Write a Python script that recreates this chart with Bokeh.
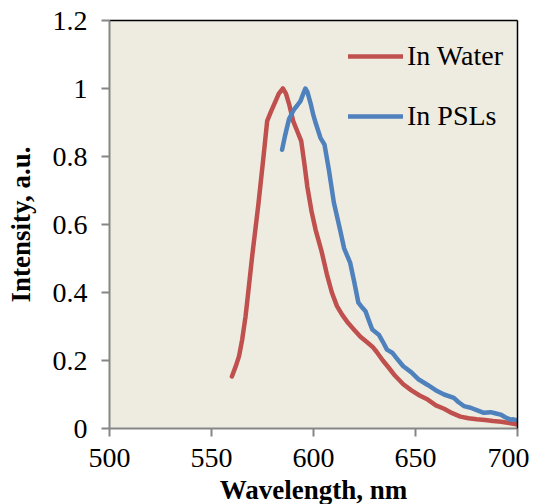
from bokeh.plotting import figure
from bokeh.models import LinearAxis, FixedTicker, Legend, LegendItem, Range1d
from bokeh.embed import file_html
from bokeh.resources import INLINE

water_wl = [560, 562, 563.5, 565, 566.7, 568, 570, 573, 575.5, 577.3, 579, 581.4, 583, 585,
            586.5, 588, 590, 592, 594, 595.5, 597, 599, 601, 604, 606.5, 609, 611.5, 614,
            617, 620, 623, 626, 629, 631, 634, 637, 640, 644, 648, 652, 656, 660, 664, 668,
            672, 676, 680, 684, 688, 692, 696, 700]
water_int = [0.153, 0.185, 0.213, 0.26, 0.33, 0.40, 0.51, 0.66, 0.80, 0.905, 0.93, 0.963, 0.985, 1.0,
             0.985, 0.955, 0.905, 0.875, 0.845, 0.78, 0.71, 0.64, 0.585, 0.52, 0.455, 0.40, 0.36, 0.335,
             0.31, 0.29, 0.27, 0.255, 0.24, 0.225, 0.20, 0.178, 0.155, 0.13, 0.112, 0.097, 0.085, 0.068,
             0.058, 0.045, 0.035, 0.03, 0.027, 0.025, 0.022, 0.02, 0.016, 0.012]

psl_wl = [584.6, 586, 588, 590.4, 592, 593.6, 595, 596, 597, 598.5, 600, 601, 603.4, 605.4, 607.5,
          610, 613, 615, 618, 620, 622, 624, 625.5, 627, 628.8, 632, 634, 636, 638.6, 641, 644,
          648, 651.6, 656, 660.6, 664, 668.8, 671, 673.7, 677, 680, 683.5, 686.8, 689, 691.7,
          694, 696.6, 698, 700]
psl_int = [0.82, 0.86, 0.91, 0.938, 0.95, 0.963, 0.985, 1.0, 0.99, 0.958, 0.92, 0.9, 0.855, 0.835,
           0.762, 0.664, 0.585, 0.53, 0.487, 0.43, 0.37, 0.355, 0.345, 0.32, 0.291, 0.276, 0.255,
           0.232, 0.223, 0.205, 0.183, 0.165, 0.144, 0.128, 0.11, 0.1, 0.09, 0.078, 0.066, 0.061,
           0.054, 0.046, 0.048, 0.045, 0.041, 0.033, 0.026, 0.027, 0.024]

x_ticks = [500, 550, 600, 650, 700]
y_ticks = [0, 0.2, 0.4, 0.6, 0.8, 1.0, 1.2]
y_tick_labels = ["0", "0.2", "0.4", "0.6", "0.8", "1", "1.2"]

FONT = "Liberation Serif"
AXIS_GRAY = "#868686"
RED = "#C0504D"
BLUE = "#4F81BD"

p = figure(frame_width=408, frame_height=408, output_backend="svg", toolbar_location=None,
           x_range=Range1d(500, 700), y_range=Range1d(0, 1.2),
           min_border_left=109, min_border_top=20, min_border_right=12, min_border_bottom=66,
           border_fill_color="white")
p.background_fill_color = "#EEECE1"
p.outline_line_color = None
p.xgrid.visible = False
p.ygrid.visible = False

r1 = p.line(water_wl, water_int, line_color=RED, line_width=4.5, line_cap="round", line_join="round")
r2 = p.line(psl_wl, psl_int, line_color=BLUE, line_width=4.5, line_cap="round", line_join="round")

for ax in (p.xaxis[0], p.yaxis[0]):
    ax.axis_line_color = AXIS_GRAY
    ax.axis_line_width = 2
    ax.major_tick_line_color = AXIS_GRAY
    ax.major_tick_line_width = 2
    ax.major_tick_out = 8
    ax.major_tick_in = 0
    ax.minor_tick_line_color = None
    ax.major_label_text_font = FONT
    ax.major_label_text_font_size = "28px"
    ax.major_label_text_color = "black"
    ax.axis_label_text_font = FONT
    ax.axis_label_text_font_size = "27px"
    ax.axis_label_text_font_style = "bold"
    ax.axis_label_text_color = "black"

p.xaxis.ticker = FixedTicker(ticks=x_ticks)
p.yaxis.ticker = FixedTicker(ticks=y_ticks)
p.yaxis.major_label_overrides = dict(zip(y_ticks, y_tick_labels))
p.xaxis.axis_label = "Wavelength, nm"
p.yaxis.axis_label = "Intensity, a.u."
p.xaxis.major_label_standoff = 12
p.xaxis.axis_label_standoff = 5
p.yaxis.major_label_standoff = 14
p.yaxis.axis_label_standoff = 14

for side in ("right", "above"):
    ax = LinearAxis(ticker=FixedTicker(ticks=[]), axis_line_color="black", axis_line_width=1.5,
                    major_tick_line_color=None, minor_tick_line_color=None,
                    major_label_text_font_size="0px")
    p.add_layout(ax, side)

legend = Legend(items=[LegendItem(label="In Water", renderers=[r1]),
                       LegendItem(label="In PSLs", renderers=[r2])],
                location=(239, 296), padding=0, margin=0, spacing=28,
                glyph_width=55, glyph_height=30, label_height=30, label_standoff=4,
                label_text_font=FONT, label_text_font_size="28px", label_text_color="black",
                border_line_color=None, background_fill_alpha=0)
p.add_layout(legend, "center")

open("out.html", "w").write(file_html(p, INLINE))
